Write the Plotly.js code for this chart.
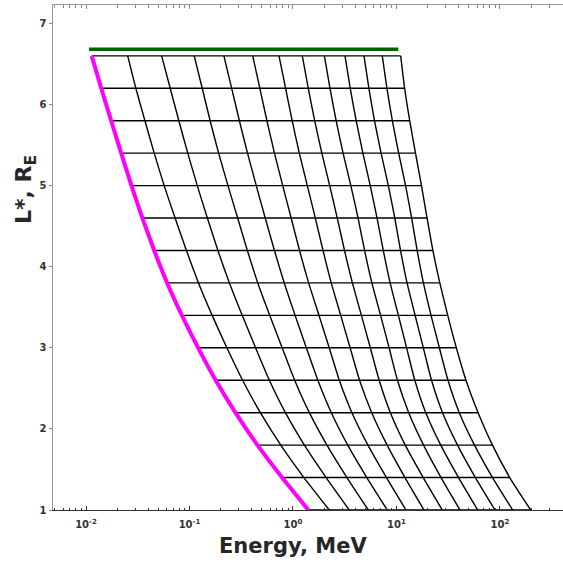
<!DOCTYPE html>
<html>
<head>
<meta charset="utf-8">
<script src="https://cdn.plot.ly/plotly-3.0.1.min.js"></script>
<style>html,body{margin:0;padding:0;background:#fff;}#chart{width:563px;height:562px;}</style>
</head>
<body>
<div id="chart"></div>
<script>
// L* values of the horizontal grid lines (top to bottom)
const L_VALUES = [6.6, 6.2, 5.8, 5.4, 5.0, 4.6, 4.2, 3.8, 3.4, 3.0, 2.6, 2.2, 1.8, 1.4, 1.0];

// Energy (MeV) where each of the 13 constant-invariant curves crosses each L* line
const E_L66 = [0.01135, 0.0253, 0.0538, 0.111, 0.215, 0.408, 0.733, 1.23, 2.01, 3.18, 4.85, 7.29, 10.98];
const E_L62 = [0.01403, 0.0303, 0.0651, 0.1327, 0.2556, 0.4783, 0.8485, 1.406, 2.279, 3.575, 5.414, 8.091, 11.99];
const E_L58 = [0.0175, 0.0371, 0.0789, 0.1583, 0.3034, 0.5598, 0.9817, 1.619, 2.611, 4.078, 6.131, 9.120, 13.42];
const E_L54 = [0.02188, 0.0456, 0.0962, 0.1912, 0.3635, 0.6623, 1.151, 1.900, 3.047, 4.737, 7.100, 10.50, 15.26];
const E_L50 = [0.02748, 0.0569, 0.1189, 0.2355, 0.4416, 0.796, 1.375, 2.263, 3.622, 5.576, 8.344, 12.24, 17.44];
const E_L46 = [0.03508, 0.0726, 0.1488, 0.2921, 0.5395, 0.9598, 1.644, 2.679, 4.256, 6.494, 9.634, 14.02, 19.75];
const E_L42 = [0.0456, 0.0934, 0.1882, 0.3624, 0.6617, 1.157, 1.950, 3.147, 4.918, 7.454, 10.94, 15.84, 22.48];
const E_L38 = [0.0608, 0.1222, 0.2431, 0.4568, 0.8228, 1.417, 2.342, 3.750, 5.785, 8.686, 12.65, 18.20, 26.22];
const E_L34 = [0.0845, 0.1656, 0.3233, 0.5958, 1.048, 1.782, 2.891, 4.581, 7.024, 10.43, 15.14, 21.58, 31.28];
const E_L30 = [0.1213, 0.2296, 0.435, 0.7856, 1.345, 2.239, 3.565, 5.588, 8.487, 12.53, 18.18, 25.97, 37.87];
const E_L26 = [0.1791, 0.3258, 0.5914, 1.038, 1.738, 2.804, 4.398, 6.801, 10.22, 15.03, 21.81, 31.45, 46.92];
const E_L22 = [0.278, 0.4842, 0.8444, 1.439, 2.347, 3.711, 5.768, 8.730, 13.13, 19.19, 27.86, 40.46, 61.49];
const E_L18 = [0.4539, 0.7621, 1.289, 2.128, 3.383, 5.297, 8.128, 12.16, 18.27, 26.79, 38.89, 56.73, 84.62];
const E_L14 = [0.7852, 1.276, 2.091, 3.322, 5.170, 8.008, 12.08, 18.13, 26.94, 39.80, 57.88, 84.72, 124.3];
const E_L10 = [1.406, 2.244, 3.499, 5.346, 8.147, 12.36, 18.45, 27.73, 41.11, 60.95, 89.54, 132.7, 198.2];

// Geosynchronous reference line (green)
const GEO_E = [0.0107, 10.4];
const GEO_L = [6.68, 6.68];

// Axis tick labels
const X_TICK_VALS = [0.01, 0.1, 1, 10, 100];
const X_TICK_TEXT = ['10<sup>-2</sup>', '10<sup>-1</sup>', '10<sup>0</sup>', '10<sup>1</sup>', '10<sup>2</sup>'];
const Y_TICK_VALS = [1, 2, 3, 4, 5, 6, 7];

const ROWS = [E_L66, E_L62, E_L58, E_L54, E_L50, E_L46, E_L42, E_L38, E_L34, E_L30, E_L26, E_L22, E_L18, E_L14, E_L10];
const nCurves = E_L66.length;

const traces = [];
// horizontal lines of constant L*
ROWS.forEach((row, i) => {
  traces.push({
    x: row, y: row.map(() => L_VALUES[i]),
    mode: 'lines', line: {color: '#000', width: 1.4},
    hoverinfo: 'skip', showlegend: false
  });
});
// curves of constant invariant (the first one is drawn magenta on top)
for (let j = 1; j < nCurves; j++) {
  traces.push({
    x: ROWS.map(r => r[j]), y: L_VALUES,
    mode: 'lines', line: {color: '#000', width: 1.4, shape: 'spline', smoothing: 0.6},
    hoverinfo: 'skip', showlegend: false
  });
}
traces.push({
  x: ROWS.map(r => r[0]), y: L_VALUES,
  mode: 'lines', line: {color: '#FF00FF', width: 4, shape: 'spline', smoothing: 0.6},
  hoverinfo: 'skip', showlegend: false
});
traces.push({
  x: GEO_E, y: GEO_L, xaxis: 'x2',
  mode: 'lines', line: {color: '#006400', width: 3.5},
  hoverinfo: 'skip', showlegend: false
});

const minorVals = [];
for (let d = -3; d <= 2; d++) {
  for (let m = 2; m <= 9; m++) minorVals.push(m * Math.pow(10, d));
}

const tickFont = {family: 'DejaVu Sans', size: 10, color: '#333', weight: 'bold'};
const xr = [-2.319, 2.609];

const layout = {
  width: 563, height: 562,
  margin: {l: 53, r: 0, t: 5, b: 52},
  paper_bgcolor: '#fff', plot_bgcolor: '#fff',
  showlegend: false,
  xaxis: {
    type: 'log', range: xr, tickmode: 'array', tickvals: X_TICK_VALS, ticktext: X_TICK_TEXT,
    ticks: 'inside', ticklen: 4, tickwidth: 1, tickcolor: '#333',
    showline: true, linecolor: '#333', linewidth: 1, showgrid: false, zeroline: false,
    tickfont: tickFont, ticklabelstandoff: 5,
    minor: {tickmode: 'array', tickvals: minorVals, ticks: 'inside', ticklen: 2.5, tickcolor: '#333', showgrid: false}
  },
  xaxis2: {
    type: 'log', range: xr, overlaying: 'x', side: 'top', anchor: 'y',
    tickmode: 'array', tickvals: X_TICK_VALS, showticklabels: false,
    ticks: 'inside', ticklen: 4, tickwidth: 1, tickcolor: '#888',
    showline: true, linecolor: '#999', linewidth: 1, showgrid: false, zeroline: false,
    minor: {tickmode: 'array', tickvals: minorVals, ticks: 'inside', ticklen: 2.5, tickcolor: '#888', showgrid: false}
  },
  yaxis: {
    range: [1, 7.227], tickmode: 'array', tickvals: Y_TICK_VALS,
    ticks: 'outside', ticklen: 3, tickwidth: 1, tickcolor: '#888',
    showline: true, linecolor: '#999', linewidth: 1.5, showgrid: false, zeroline: false,
    tickfont: tickFont
  },
  annotations: [
    {text: 'Energy, MeV', xref: 'paper', yref: 'paper', x: (293 - 53) / 510, y: (510 - 546) / 505,
     xanchor: 'center', yanchor: 'middle', showarrow: false,
     font: {family: 'DejaVu Sans', size: 21, color: '#262626', weight: 'bold'}},
    {text: 'L*, R<sub>E</sub>', xref: 'paper', yref: 'paper', x: (25 - 53) / 510, y: (510 - 190) / 505,
     xanchor: 'center', yanchor: 'middle', textangle: -90, showarrow: false,
     font: {family: 'DejaVu Sans', size: 22, color: '#262626', weight: 'bold'}}
  ]
};

Plotly.newPlot('chart', traces, layout, {staticPlot: true, displayModeBar: false});
</script>
</body>
</html>
